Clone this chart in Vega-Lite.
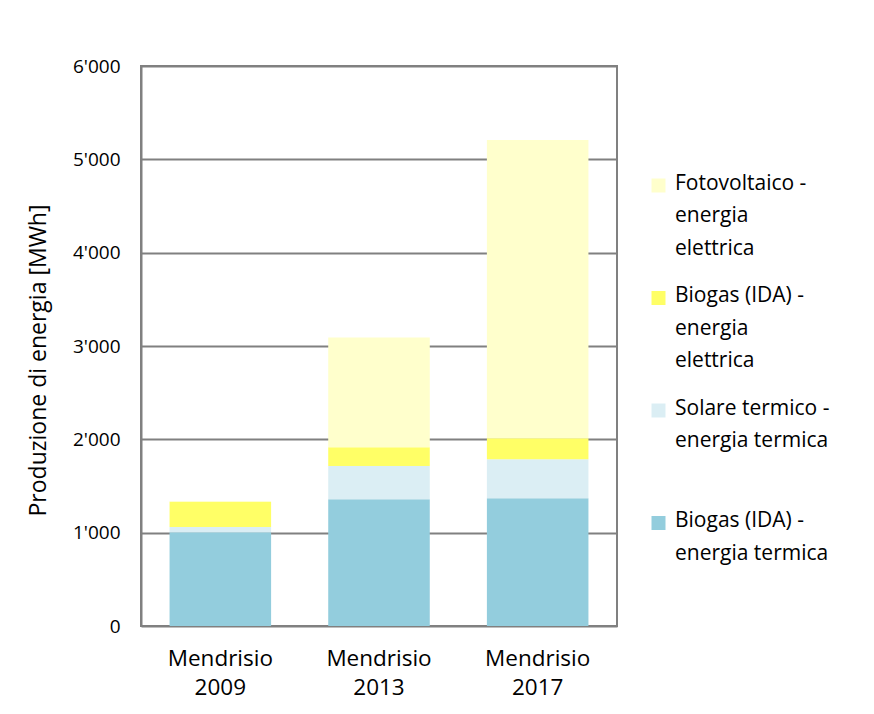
{
  "$schema": "https://vega.github.io/schema/vega-lite/v6.json",
  "width": 476,
  "height": 560,
  "autosize": {"type": "none"},
  "padding": {"left": 141, "top": 66, "right": 257, "bottom": 88},
  "background": "white",
  "config": {
    "locale": {"number": {"decimal": ".", "thousands": "'", "grouping": [3], "currency": ["", ""]}},
    "view": {"stroke": "#808080", "strokeWidth": 2},
    "font": "Open Sans"
  },
  "data": {
    "values": [
      {"anno": "Mendrisio 2009", "serie": "Biogas (IDA) - energia termica", "livello": 1, "mwh": 1005},
      {"anno": "Mendrisio 2009", "serie": "Solare termico - energia termica", "livello": 2, "mwh": 55},
      {"anno": "Mendrisio 2009", "serie": "Biogas (IDA) - energia elettrica", "livello": 3, "mwh": 270},
      {"anno": "Mendrisio 2009", "serie": "Fotovoltaico - energia elettrica", "livello": 4, "mwh": 10},
      {"anno": "Mendrisio 2013", "serie": "Biogas (IDA) - energia termica", "livello": 1, "mwh": 1358},
      {"anno": "Mendrisio 2013", "serie": "Solare termico - energia termica", "livello": 2, "mwh": 356},
      {"anno": "Mendrisio 2013", "serie": "Biogas (IDA) - energia elettrica", "livello": 3, "mwh": 200},
      {"anno": "Mendrisio 2013", "serie": "Fotovoltaico - energia elettrica", "livello": 4, "mwh": 1177},
      {"anno": "Mendrisio 2017", "serie": "Biogas (IDA) - energia termica", "livello": 1, "mwh": 1369},
      {"anno": "Mendrisio 2017", "serie": "Solare termico - energia termica", "livello": 2, "mwh": 417},
      {"anno": "Mendrisio 2017", "serie": "Biogas (IDA) - energia elettrica", "livello": 3, "mwh": 225},
      {"anno": "Mendrisio 2017", "serie": "Fotovoltaico - energia elettrica", "livello": 4, "mwh": 3195}
    ]
  },
  "mark": {"type": "bar"},
  "encoding": {
    "x": {
      "field": "anno",
      "type": "nominal",
      "scale": {"paddingInner": 0.36, "paddingOuter": 0.18},
      "axis": {
        "title": null,
        "labelAngle": 0,
        "ticks": false,
        "domain": false,
        "labelExpr": "split(datum.label, ' ')",
        "labelFont": "Open Sans",
        "labelFontSize": 22.5,
        "labelLineHeight": 29,
        "labelColor": "#000000",
        "labelPadding": 21
      }
    },
    "y": {
      "field": "mwh",
      "type": "quantitative",
      "stack": "zero",
      "scale": {"domain": [0, 6000], "nice": false},
      "axis": {
        "title": "Produzione di energia [MWh]",
        "titleFont": "Open Sans",
        "titleFontSize": 23,
        "titleFontWeight": "normal",
        "titleColor": "#000000",
        "titleX": -103,
        "titleY": 294,
        "titleBaseline": "middle",
        "titleAngle": -90,
        "values": [0, 1000, 2000, 3000, 4000, 5000, 6000],
        "format": ",d",
        "ticks": false,
        "domainColor": "#808080",
        "domainWidth": 2,
        "gridColor": "#808080",
        "gridWidth": 2,
        "labelFont": "Open Sans",
        "labelFontSize": 19,
        "labelColor": "#000000",
        "labelPadding": 21
      }
    },
    "color": {
      "field": "serie",
      "type": "nominal",
      "sort": ["Fotovoltaico - energia elettrica", "Biogas (IDA) - energia elettrica", "Solare termico - energia termica", "Biogas (IDA) - energia termica"],
      "scale": {
        "domain": ["Fotovoltaico - energia elettrica", "Biogas (IDA) - energia elettrica", "Solare termico - energia termica", "Biogas (IDA) - energia termica"],
        "range": ["#FFFFCC", "#FFFF66", "#DBEEF4", "#93CDDD"]
      },
      "legend": {
        "title": null,
        "orient": "none",
        "legendX": 507,
        "legendY": 109,
        "padding": 0,
        "symbolType": "square",
        "symbolSize": 196,
        "symbolStrokeWidth": 0,
        "labelFont": "Open Sans",
        "labelFontSize": 21,
        "labelColor": "#000000",
        "labelOffset": 6,
        "labelLimit": 300,
        "rowPadding": 25.5,
        "labelBaseline": "top",
        "labelExpr": "{'Fotovoltaico - energia elettrica': ['Fotovoltaico -', 'energia', 'elettrica'], 'Biogas (IDA) - energia elettrica': ['Biogas (IDA) -', 'energia', 'elettrica'], 'Solare termico - energia termica': ['Solare termico -', 'energia termica', ' '], 'Biogas (IDA) - energia termica': ['Biogas (IDA) -', 'energia termica', ' ']}[datum.label]",
        "encode": {
          "labels": {"update": {"lineHeight": {"value": 32.5}, "dy": {"value": -13}}}
        }
      }
    },
    "order": {"field": "livello", "type": "quantitative", "sort": "ascending"}
  }
}
